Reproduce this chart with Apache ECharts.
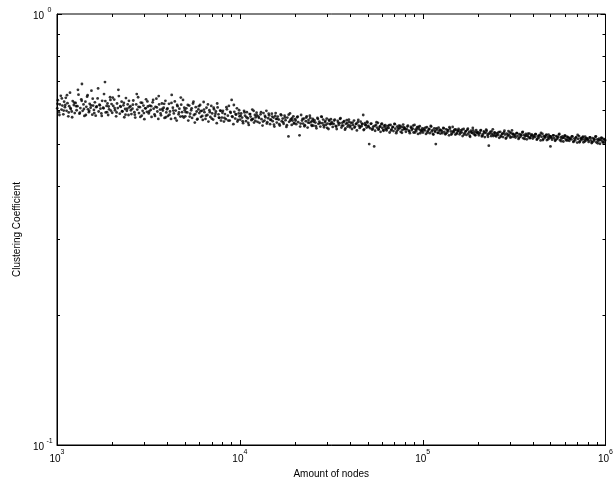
<!DOCTYPE html>
<html>
<head>
<meta charset="utf-8">
<script src="https://cdn.jsdelivr.net/npm/echarts@6/dist/echarts.min.js"></script>
<style>html,body{margin:0;padding:0;background:#fff}#chart{width:616px;height:487px}</style>
</head>
<body>
<div id="chart"></div>
<script>
// Estimated points: [amount of nodes, clustering coefficient]
const decade3 = [
[1003,0.604],[1011,0.631],[1024,0.592],[1036,0.617],[1049,0.646],[1058,0.600],[1070,0.613],[1083,0.585],[1094,0.626],[1105,0.608],
[1117,0.639],[1128,0.596],[1141,0.621],[1153,0.579],[1166,0.611],[1178,0.657],[1190,0.602],[1204,0.594],[1219,0.628],[1236,0.615],[1250,0.589],
[1264,0.622],[1280,0.598],[1293,0.611],[1311,0.650],[1327,0.587],[1342,0.605],[1358,0.634],[1369,0.688],[1381,0.596],[1396,0.617],
[1412,0.580],[1430,0.626],[1447,0.609],[1461,0.643],[1478,0.601],[1494,0.592],[1509,0.619],[1527,0.606],[1543,0.664],[1560,0.584],[1576,0.613],
[1592,0.599],[1611,0.624],[1628,0.581],[1649,0.610],[1668,0.637],[1690,0.594],[1707,0.616],[1729,0.603],[1748,0.588],[1766,0.629],
[1789,0.606],[1808,0.652],[1830,0.695],[1846,0.591],[1867,0.612],[1889,0.620],[1905,0.583],[1928,0.601],[1951,0.641],[1970,0.597],[1988,0.618],
[2004,0.590],[2031,0.612],[2055,0.633],[2078,0.598],[2106,0.579],[2130,0.620],[2151,0.605],[2179,0.645],[2205,0.587],[2232,0.609],
[2256,0.626],[2281,0.594],[2309,0.614],[2334,0.576],[2358,0.602],[2383,0.638],[2410,0.596],[2437,0.617],[2461,0.583],[2489,0.607],
[2520,0.611],[2553,0.586],[2586,0.603],[2614,0.630],[2650,0.592],[2679,0.575],[2712,0.617],[2748,0.600],[2777,0.641],[2808,0.589],
[2841,0.608],[2873,0.623],[2906,0.581],[2940,0.596],[2972,0.613],[3005,0.570],[3039,0.604],[3070,0.634],[3104,0.593],[3141,0.610],
[3175,0.588],[3214,0.613],[3255,0.599],[3290,0.577],[3336,0.624],[3377,0.603],[3415,0.585],[3458,0.609],[3496,0.636],[3540,0.594],
[3582,0.571],[3620,0.617],[3664,0.600],[3705,0.582],[3748,0.620],[3790,0.597],[3833,0.606],[3875,0.574],[3917,0.629],[3960,0.591],
[3995,0.601],[4047,0.580],[4099,0.619],[4150,0.594],[4204,0.571],[4240,0.649],[4301,0.606],[4355,0.588],[4409,0.627],[4458,0.597],
[4515,0.566],[4566,0.611],[4622,0.585],[4670,0.603],[4728,0.578],[4780,0.616],[4831,0.592],[4888,0.632],[4941,0.575],[4995,0.598],
[5030,0.579],[5094,0.604],[5160,0.591],[5225,0.566],[5288,0.613],[5350,0.587],[5418,0.598],[5482,0.574],[5545,0.620],[5610,0.583],
[5674,0.560],[5741,0.608],[5806,0.594],[5870,0.571],[5935,0.601],[6001,0.589],[6066,0.615],[6132,0.577],[6198,0.596],[6271,0.568],
[6340,0.625],[6402,0.592],[6488,0.571],[6570,0.606],[6650,0.583],[6733,0.563],[6815,0.598],[6900,0.577],[6980,0.612],[7064,0.588],
[7148,0.569],[7230,0.601],[7312,0.580],[7395,0.594],[7479,0.558],[7560,0.607],[7644,0.585],[7727,0.574],[7811,0.597],[7890,0.566],
[7980,0.575],[8082,0.596],[8185,0.563],[8290,0.586],[8392,0.570],[8497,0.601],[8600,0.581],[8710,0.612],[8805,0.566],[8912,0.590],
[9020,0.632],[9118,0.577],[9221,0.555],[9330,0.593],[9434,0.572],[9540,0.584],[9645,0.604],[9751,0.568],[9860,0.588],[9955,0.579]
];
const extra3 = [
[1007,0.619],[1031,0.583],[1063,0.637],[1088,0.597],[1110,0.615],[1134,0.648],[1159,0.591],[1183,0.605],[1210,0.576],[1243,0.623],
[1272,0.611],[1302,0.667],[1334,0.590],[1365,0.629],[1404,0.602],[1438,0.583],[1470,0.648],[1501,0.596],[1535,0.614],[1568,0.636],
[1600,0.589],[1638,0.608],[1678,0.672],[1716,0.614],[1757,0.580],[1798,0.604],[1838,0.628],[1878,0.592],[1917,0.610],[1960,0.632],
[2017,0.640],[2066,0.605],[2118,0.591],[2166,0.667],[2218,0.611],[2268,0.595],[2321,0.622],[2370,0.584],[2423,0.603],[2475,0.629],
[2536,0.598],[2600,0.616],[2664,0.584],[2730,0.652],[2792,0.609],[2857,0.577],[2923,0.622],[2988,0.589],[3055,0.604],[3122,0.627],
[3194,0.594],[3272,0.611],[3356,0.632],[3436,0.580],[3518,0.607],[3601,0.645],[3685,0.588],[3769,0.602],[3854,0.619],[3938,0.576],
[4020,0.604],[4125,0.584],[4228,0.622],[4328,0.597],[4432,0.573],[4540,0.615],[4646,0.591],[4754,0.640],[4860,0.579],[4968,0.606],
[5062,0.592],[5192,0.615],[5320,0.578],[5450,0.604],[5578,0.626],[5708,0.586],[5838,0.569],[5968,0.611],[6100,0.595],[6235,0.580],
[6372,0.600],[6530,0.581],[6692,0.617],[6857,0.592],[7022,0.572],[7188,0.606],[7354,0.587],[7520,0.620],[7686,0.575],[7850,0.596],
[8030,0.590],[8238,0.574],[8445,0.608],[8650,0.566],[8860,0.593],[9070,0.579],[9275,0.615],[9485,0.586],[9700,0.563],[9908,0.598]
];
const decade4 = [
[10040,0.569],[10170,0.588],[10290,0.575],[10420,0.558],[10550,0.596],[10680,0.581],[10810,0.564],[10930,0.592],[11060,0.573],[11190,0.553],
[11320,0.586],[11450,0.578],[11580,0.567],[11700,0.600],[11830,0.571],[11960,0.560],[12090,0.583],[12220,0.576],[12350,0.590],[12490,0.562],
[12650,0.578],[12810,0.559],[12980,0.585],[13140,0.570],[13310,0.551],[13470,0.589],[13640,0.566],[13800,0.576],[13970,0.596],[14130,0.561],
[14300,0.573],[14460,0.582],[14630,0.555],[14790,0.569],[14960,0.587],[15120,0.564],[15290,0.575],[15450,0.548],[15620,0.580],[15780,0.571],
[15930,0.560],[16130,0.578],[16340,0.569],[16540,0.551],[16750,0.585],[16950,0.564],[17160,0.572],[17360,0.556],[17570,0.581],[17780,0.567],
[17980,0.547],[18190,0.575],[18450,0.520],[18600,0.562],[18810,0.588],[19010,0.570],[19220,0.553],[19420,0.566],[19630,0.579],[19850,0.559],
[20070,0.570],[20330,0.555],[20590,0.576],[20850,0.561],[21200,0.523],[21380,0.548],[21640,0.583],[21900,0.566],[22170,0.557],[22430,0.572],
[22690,0.552],[22960,0.564],[23220,0.579],[23480,0.545],[23750,0.568],[24010,0.559],[24280,0.574],[24540,0.562],[24800,0.550],[25050,0.571],
[25250,0.551],[25580,0.567],[25910,0.560],[26240,0.543],[26570,0.574],[26900,0.556],[27230,0.563],[27560,0.548],[27890,0.578],[28220,0.558],
[28560,0.569],[28890,0.546],[29220,0.561],[29550,0.553],[29880,0.572],[30210,0.557],[30540,0.541],[30870,0.565],[31200,0.555],[31500,0.570],
[31800,0.561],[32210,0.547],[32620,0.556],[33040,0.569],[33450,0.550],[33870,0.541],[34280,0.565],[34700,0.553],[35110,0.558],[35530,0.573],
[35940,0.545],[36360,0.559],[36770,0.551],[37190,0.564],[37600,0.539],[38020,0.556],[38430,0.567],[38850,0.548],[39260,0.553],[39680,0.562],
[40040,0.546],[40560,0.559],[41080,0.541],[41600,0.553],[42120,0.566],[42640,0.548],[43160,0.556],[43680,0.537],[44200,0.561],[44720,0.551],
[45240,0.544],[45760,0.563],[46280,0.549],[46800,0.555],[47300,0.583],[47840,0.540],[48360,0.558],[48880,0.552],[49400,0.545],[49920,0.560],
[50400,0.550],[51000,0.499],[51710,0.543],[52360,0.557],[53010,0.539],[53660,0.548],[54300,0.493],[54960,0.536],[55610,0.553],[56260,0.545],
[56910,0.559],[57560,0.541],[58210,0.547],[58860,0.533],[59510,0.555],[60160,0.544],[60810,0.538],[61460,0.551],[62110,0.546],[62760,0.540],
[63500,0.537],[64320,0.549],[65140,0.544],[65960,0.531],[66780,0.553],[67600,0.540],[68420,0.546],[69240,0.535],[70060,0.556],[70880,0.542],
[71700,0.529],[72520,0.548],[73340,0.539],[74160,0.551],[74980,0.543],[75800,0.533],[76620,0.547],[77440,0.538],[78260,0.554],[79080,0.541],
[79940,0.544],[80970,0.533],[82000,0.540],[83030,0.551],[84060,0.536],[85090,0.529],[86120,0.547],[87150,0.538],[88180,0.542],[89210,0.531],
[90240,0.553],[91270,0.539],[92300,0.535],[93330,0.546],[94360,0.527],[95390,0.541],[96420,0.549],[97450,0.537],[98480,0.534],[99510,0.543]
];
const extra4 = [
[10100,0.581],[10360,0.564],[10610,0.591],[10870,0.576],[11120,0.559],[11390,0.586],[11640,0.570],[11900,0.596],[12160,0.565],[12420,0.582],
[12730,0.574],[13060,0.592],[13390,0.563],[13720,0.580],[14050,0.557],[14380,0.587],[14710,0.568],[15040,0.578],[15370,0.554],[15700,0.589],
[16030,0.571],[16440,0.555],[16850,0.582],[17260,0.561],[17670,0.575],[18090,0.552],[18500,0.584],[18910,0.566],[19320,0.573],[19740,0.557],
[20200,0.566],[20720,0.578],[21510,0.557],[22040,0.571],[22560,0.549],[23090,0.575],[23610,0.560],[24140,0.581],[24670,0.553],[24930,0.565],
[25410,0.562],[26070,0.549],[26740,0.571],[27400,0.558],[28060,0.577],[28720,0.552],[29380,0.565],[30050,0.544],[30710,0.568],[31350,0.556],
[32000,0.557],[32830,0.566],[33660,0.548],[34490,0.560],[35320,0.571],[36150,0.551],[36980,0.562],[37810,0.543],[38640,0.559],[39470,0.569],
[40300,0.551],[41340,0.560],[42380,0.545],[43420,0.556],[44460,0.568],[45500,0.548],[46540,0.557],[47580,0.538],[48620,0.553],[49660,0.563],
[50720,0.547],[52030,0.556],[53340,0.542],[54640,0.550],[55940,0.561],[57240,0.539],[58540,0.549],[59840,0.557],[61140,0.536],[62440,0.552],
[63900,0.543],[65550,0.552],[67190,0.537],[68830,0.547],[70470,0.555],[72110,0.534],[73750,0.544],[75390,0.550],[77030,0.530],[78670,0.546],
[80450,0.540],[82510,0.548],[84570,0.534],[86630,0.544],[88690,0.551],[90750,0.531],[92810,0.541],[94870,0.547],[96930,0.529],[98990,0.538]
];
const decade5 = [
[100400,0.531],[101700,0.542],[103000,0.537],[104300,0.527],[105500,0.546],[106800,0.535],[108100,0.540],[109400,0.529],[110700,0.550],[112000,0.534],
[113200,0.538],[114500,0.525],[115800,0.543],[117100,0.533],[118000,0.499],[119600,0.539],[120900,0.530],[122200,0.545],[123500,0.536],[124900,0.528],
[126500,0.538],[128100,0.529],[129700,0.544],[131300,0.533],[133000,0.526],[134600,0.540],[136200,0.531],[137800,0.536],[139400,0.523],[141100,0.542],
[142700,0.534],[144300,0.528],[145900,0.547],[147500,0.532],[149100,0.537],[150800,0.525],[152400,0.539],[154000,0.530],[155600,0.535],[157200,0.541],
[159300,0.526],[161300,0.537],[163400,0.531],[165400,0.521],[167500,0.541],[169500,0.529],[171600,0.534],[173600,0.524],[175700,0.539],[177700,0.528],
[179800,0.533],[181800,0.519],[183900,0.536],[185900,0.530],[188000,0.544],[190000,0.527],[192100,0.532],[194100,0.523],[196200,0.538],[198200,0.529],
[200600,0.532],[203100,0.523],[205700,0.529],[208300,0.538],[210900,0.520],[213500,0.526],[216100,0.534],[218700,0.518],[221200,0.530],[223800,0.536],
[226400,0.524],[229000,0.528],[230000,0.495],[234200,0.533],[236800,0.521],[239300,0.527],[241900,0.540],[244500,0.525],[247100,0.531],[249700,0.522],
[252500,0.520],[255800,0.529],[259000,0.524],[262300,0.516],[265500,0.533],[268800,0.522],[272000,0.527],[275300,0.518],[278500,0.531],[281800,0.525],
[285000,0.514],[288300,0.528],[291500,0.521],[294800,0.535],[298000,0.523],[301300,0.517],[304500,0.530],[308000,0.537],[311000,0.526],[314300,0.519],
[318000,0.525],[322100,0.517],[326200,0.529],[330300,0.521],[334400,0.513],[338500,0.526],[342600,0.519],[346700,0.523],[350800,0.531],[354900,0.515],
[359000,0.524],[363100,0.520],[367200,0.527],[371300,0.512],[375400,0.522],[379500,0.518],[383600,0.528],[387700,0.516],[391800,0.521],[395900,0.525],
[400300,0.514],[405500,0.522],[410700,0.518],[415800,0.526],[421000,0.511],[426200,0.520],[431300,0.516],[436500,0.524],[441700,0.509],[446800,0.519],
[452000,0.527],[457200,0.513],[462300,0.521],[467500,0.517],[472700,0.523],[477800,0.510],[483000,0.518],[488200,0.525],[493300,0.515],[498500,0.520],[500000,0.493],
[504000,0.519],[510500,0.511],[517000,0.523],[523500,0.515],[530000,0.508],[536500,0.521],[543000,0.513],[549500,0.517],[556000,0.525],[562500,0.510],
[569000,0.518],[575500,0.514],[582000,0.520],[588500,0.506],[595000,0.516],[601500,0.522],[608000,0.512],[614500,0.519],[621000,0.509],[627500,0.515],
[634500,0.508],[642700,0.516],[650900,0.512],[659100,0.520],[667300,0.505],[675500,0.514],[683700,0.510],[691900,0.518],[700100,0.503],[708300,0.513],
[716500,0.521],[724700,0.507],[732900,0.515],[741100,0.511],[749300,0.517],[757500,0.504],[765700,0.512],[773900,0.519],[782100,0.509],[790300,0.514],
[798800,0.513],[809100,0.505],[819400,0.517],[829700,0.509],[840000,0.502],[850300,0.515],[860600,0.507],[870900,0.511],[881200,0.519],[891500,0.504],
[901800,0.512],[912100,0.508],[922400,0.514],[932700,0.500],[943000,0.510],[953300,0.516],[963600,0.506],[973900,0.513],[984200,0.503],[994500,0.509]
];
const extra5 = [
[101050,0.538],[103650,0.545],[106150,0.531],[108750,0.541],[111350,0.548],[113850,0.527],[116450,0.536],[119000,0.543],[121550,0.530],[124200,0.539],
[127300,0.534],[130500,0.543],[133800,0.528],[137000,0.538],[140200,0.546],[143500,0.525],[146700,0.534],[149900,0.540],[153200,0.527],[156400,0.536],
[160300,0.531],[164400,0.539],[168500,0.525],[172600,0.535],[176700,0.542],[180800,0.522],[184900,0.531],[189000,0.537],[193100,0.524],[197200,0.533],
[201800,0.528],[207000,0.536],[212200,0.522],[217400,0.531],[222500,0.539],[227700,0.519],[232900,0.528],[238000,0.534],[243200,0.521],[248400,0.530],
[254100,0.525],[260600,0.532],[267100,0.519],[273600,0.528],[280100,0.536],[286600,0.516],[293100,0.525],[299600,0.531],[306100,0.518],[312600,0.527],
[320000,0.522],[328200,0.529],[336400,0.516],[344600,0.525],[352800,0.533],[361000,0.513],[369200,0.522],[377400,0.528],[385600,0.515],[393800,0.524],
[402900,0.519],[413200,0.526],[423600,0.513],[433900,0.522],[444200,0.530],[454600,0.510],[464900,0.519],[475200,0.525],[485600,0.512],[495900,0.521],
[507200,0.516],[520200,0.523],[533200,0.510],[546200,0.519],[559200,0.527],[572200,0.507],[585200,0.516],[598200,0.522],[611200,0.509],[624200,0.518],
[638600,0.513],[655000,0.520],[671400,0.507],[687800,0.516],[704200,0.524],[720600,0.504],[737000,0.513],[753400,0.519],[769800,0.506],[786200,0.515],
[804000,0.510],[824600,0.517],[845100,0.504],[865700,0.513],[886300,0.520],[907000,0.501],[927500,0.510],[948100,0.516],[968700,0.503],[989400,0.512]
];

const xRange = [1000, 1000000];
const yRange = [0.1, 1];
const xMajorTicks = [1000, 10000, 100000, 1000000];
const xMinorTicks = [2000,3000,4000,5000,6000,7000,8000,9000,
  20000,30000,40000,50000,60000,70000,80000,90000,
  200000,300000,400000,500000,600000,700000,800000,900000];
const yMajorTicks = [0.1, 1];
const yMinorTicks = [0.2,0.3,0.4,0.5,0.6,0.7,0.8,0.9];
const xTitle = 'Amount of nodes';
const yTitle = 'Clustering Coefficient';

const FONT = '"Liberation Sans", Arial, Helvetica, sans-serif';
const chart = echarts.init(document.getElementById('chart'), null, {renderer: 'canvas'});

function powLabel(v) {
  const e = Math.round(Math.log10(v));
  return '{b|10}{s|' + e + '}';
}
const richX = {
  b: {fontSize: 10, fontFamily: FONT, color: '#000', lineHeight: 15, verticalAlign: 'bottom'},
  s: {fontSize: 7, fontFamily: FONT, color: '#000', lineHeight: 15, verticalAlign: 'top'}
};
const richY = {
  b: {fontSize: 10, fontFamily: FONT, color: '#000', lineHeight: 15, verticalAlign: 'bottom'},
  s: {fontSize: 7, fontFamily: FONT, color: '#000', lineHeight: 15, verticalAlign: 'top', width: 11, align: 'left'}
};

const MAJOR = 5, MINOR = 3;
function xTickItems(list, len) { return list.map(v => [v, yRange[0], len]); }
function yTickItems(list, len) { return list.map(v => [xRange[0], v, len]); }

function renderXTick(params, api) {
  const v = api.value(0), len = api.value(2);
  const b = api.coord([v, yRange[0]]);
  const t = api.coord([v, yRange[1]]);
  const st = {stroke: '#000', lineWidth: 1};
  const x = Math.round(b[0]) + 0.5;
  return {type: 'group', children: [
    {type: 'line', shape: {x1: x, y1: b[1], x2: x, y2: b[1] - len}, style: st},
    {type: 'line', shape: {x1: x, y1: t[1], x2: x, y2: t[1] + len}, style: st}
  ]};
}
function renderYTick(params, api) {
  const v = api.value(1), len = api.value(2);
  const l = api.coord([xRange[0], v]);
  const r = api.coord([xRange[1], v]);
  const st = {stroke: '#000', lineWidth: 1};
  const y = Math.round(l[1]) + 0.5;
  return {type: 'group', children: [
    {type: 'line', shape: {x1: l[0], y1: y, x2: l[0] + len, y2: y}, style: st},
    {type: 'line', shape: {x1: r[0], y1: y, x2: r[0] - len, y2: y}, style: st}
  ]};
}

const points = decade3.concat(extra3, decade4, extra4, decade5, extra5);

chart.setOption({
  animation: false,
  backgroundColor: '#fff',
  grid: {left: 57, right: 9, top: 14, bottom: 42, show: true, borderColor: '#000', borderWidth: 1, backgroundColor: 'transparent'},
  xAxis: {
    type: 'log', logBase: 10, min: xRange[0], max: xRange[1],
    name: xTitle, nameLocation: 'middle', nameGap: 24,
    nameTextStyle: {fontSize: 10, fontFamily: FONT, color: '#000'},
    axisLine: {show: true, lineStyle: {color: '#000', width: 1}},
    axisTick: {show: false},
    splitLine: {show: false},
    axisLabel: {formatter: powLabel, rich: richX, margin: 4, color: '#000'}
  },
  yAxis: {
    type: 'log', logBase: 10, min: yRange[0], max: yRange[1],
    name: yTitle, nameLocation: 'middle', nameGap: 34, nameRotate: 90,
    nameTextStyle: {fontSize: 10, fontFamily: FONT, color: '#000'},
    axisLine: {show: true, lineStyle: {color: '#000', width: 1}},
    axisTick: {show: false},
    splitLine: {show: false},
    axisLabel: {formatter: powLabel, rich: richY, margin: 2, color: '#000'}
  },
  series: [
    {type: 'scatter', data: points, symbol: 'circle', symbolSize: 2.8,
     itemStyle: {color: '#000'}, silent: true, large: false},
    {type: 'custom', renderItem: renderXTick, data: xTickItems(xMajorTicks, MAJOR).concat(xTickItems(xMinorTicks, MINOR)), silent: true, z: 5},
    {type: 'custom', renderItem: renderYTick, data: yTickItems(yMajorTicks, MAJOR).concat(yTickItems(yMinorTicks, MINOR)), silent: true, z: 5}
  ]
});
</script>
</body>
</html>
